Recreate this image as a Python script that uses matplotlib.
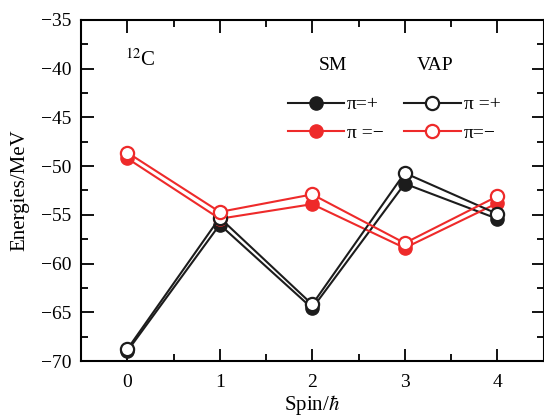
import matplotlib
matplotlib.use("Agg")
import matplotlib.pyplot as plt
from matplotlib.ticker import MultipleLocator

plt.rcParams["font.family"] = ["Liberation Serif", "DejaVu Serif"]
plt.rcParams["mathtext.fontset"] = "stix"

# =========================================================
# DATA
# =========================================================

spins = [0, 1, 2, 3, 4]

sm_pos  = [-69.0, -56.0, -64.6, -51.8, -55.4]
sm_neg  = [-49.2, -55.4, -53.9, -58.4, -53.8]
vap_pos = [-68.8, -55.3, -64.2, -50.7, -54.9]
vap_neg = [-48.6, -54.7, -52.9, -57.9, -53.1]

BLACK = "#1c1c1c"
RED   = "#ee2a2a"

# =========================================================
# PLOT
# =========================================================

fig = plt.figure(figsize=(5.44, 4.15), dpi=100)
ax = fig.add_axes([81 / 544, 1 - 361 / 415, 462.5 / 544, 341 / 415])

lw = 1.5
ms = 9.5
h1, = ax.plot(spins, sm_pos, "-o", color=BLACK, lw=lw, ms=ms, mfc=BLACK, mec=BLACK)
h2, = ax.plot(spins, sm_neg, "-o", color=RED, lw=lw, ms=ms, mfc=RED, mec=RED)
h3, = ax.plot(spins, vap_pos, "-o", color=BLACK, lw=lw, ms=ms, mfc="white", mec=BLACK, mew=1.6)
h4, = ax.plot(spins, vap_neg, "-o", color=RED, lw=lw, ms=ms, mfc="white", mec=RED, mew=1.6)

ax.set_xlim(-0.5, 4.5)
ax.set_ylim(-70, -35)
ax.xaxis.set_major_locator(MultipleLocator(1))
ax.xaxis.set_minor_locator(MultipleLocator(0.5))
ax.yaxis.set_major_locator(MultipleLocator(5))
ax.yaxis.set_minor_locator(MultipleLocator(2.5))
ax.set_yticks(ax.get_yticks())
ax.set_yticklabels([f"\u2212{abs(int(v))}" for v in ax.get_yticks()])
ax.set_ylim(-70, -35)

ax.tick_params(which="both", direction="in", top=True, right=True,
               labelsize=14, width=1.3)
ax.tick_params(which="major", length=9)
ax.tick_params(axis="y", pad=7)
ax.tick_params(axis="x", pad=9)
ax.tick_params(which="minor", length=5)
for s in ax.spines.values():
    s.set_linewidth(1.5)

ax.set_xlabel(r"Spin/$\hbar$", fontsize=15, labelpad=2)
ax.set_ylabel("Energies/MeV", fontsize=15, labelpad=8)

ax.text(0.095, 0.883, r"$^{12}$C", transform=ax.transAxes, fontsize=15, va="center")

ax.text(0.545, 0.868, "SM", transform=ax.transAxes, fontsize=14, ha="center", va="center")
ax.text(0.765, 0.868, "VAP", transform=ax.transAxes, fontsize=14, ha="center", va="center")

ax.legend([h1, h2, h3, h4], ["\u03c0=+", "\u03c0 =\u2212", "\u03c0 =+", "\u03c0=\u2212"],
          ncol=2, frameon=False, loc="upper left", bbox_to_anchor=(0.447, 0.778),
          fontsize=14, handlelength=2.9, handletextpad=0.15, columnspacing=1.05,
          labelspacing=0.55, borderaxespad=0, borderpad=0)

fig.savefig("out.png", dpi=100)
